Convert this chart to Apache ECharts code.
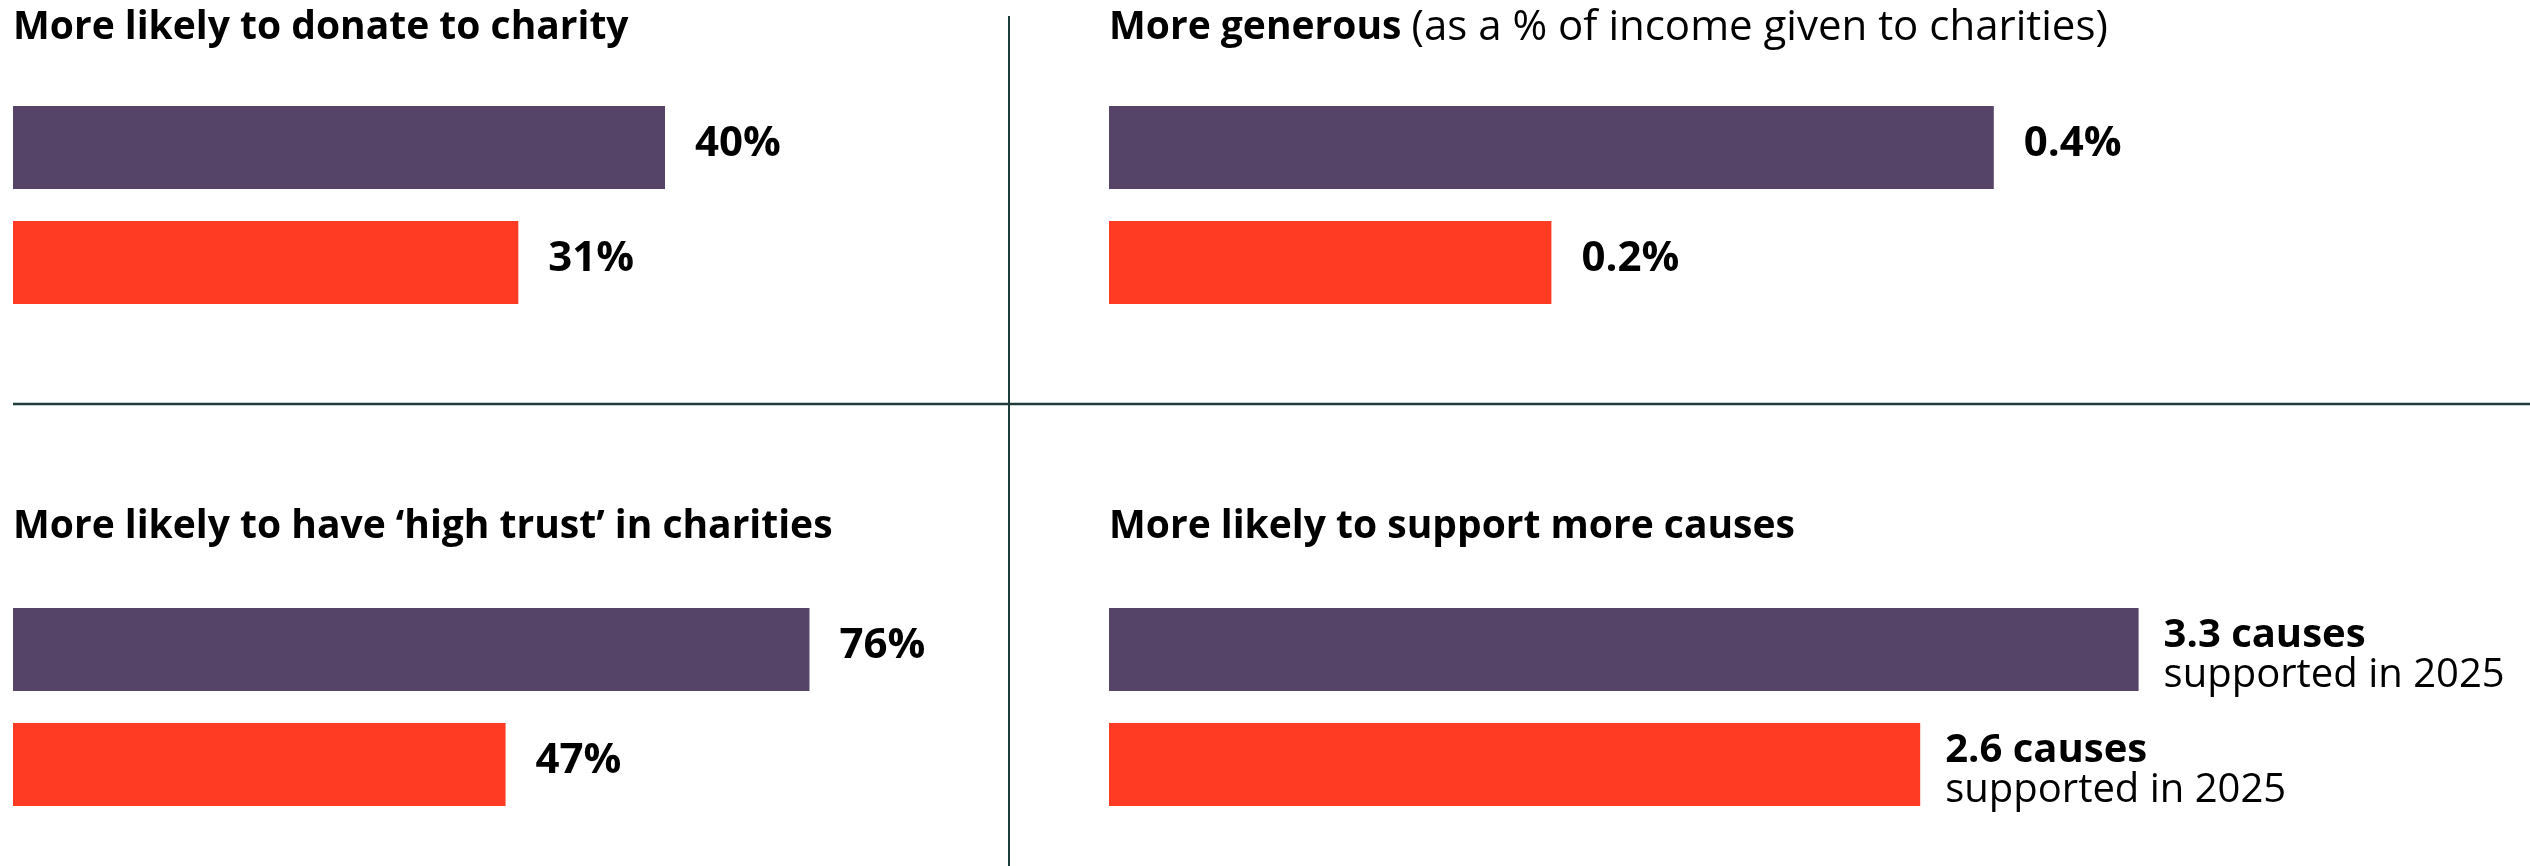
<!DOCTYPE html>
<html>
<head>
<meta charset="utf-8">
<title>Charity giving</title>
<script src="https://cdn.jsdelivr.net/npm/echarts@6/dist/echarts.min.js"></script>
<style>
  html, body { margin: 0; padding: 0; background: #fff; }
  #chart { width: 2530px; height: 866px; }
</style>
</head>
<body>
<div id="chart"></div>
<script>
// two groups compared in every panel (top bar purple, bottom bar red)
const groups = ['Group 1', 'Group 2']
const groupColors = ['#564468', '#ff3b23']

const donateValues = [40, 31]
const generousValues = [0.4, 0.2]
const trustValues = [76, 47]
const causesValues = [3.3, 2.6]
const causesNote = 'supported in 2025'

const FONT = "'Open Sans', 'Liberation Sans', sans-serif"
const LINE = '#1e3c3c'

let chart = echarts.init(document.getElementById('chart'))

function bars (idx, values, label) {
  return {
    type: 'bar',
    xAxisIndex: idx,
    yAxisIndex: idx,
    barWidth: 83,
    silent: true,
    data: values.map((v, i) => ({ value: v, itemStyle: { color: groupColors[i] } })),
    label: Object.assign({
      show: true,
      position: 'right',
      distance: 30,
      color: '#000',
      fontFamily: FONT,
      fontWeight: 'bold',
      fontSize: 42
    }, label)
  }
}

function title (text, left, top) {
  return {
    text: text,
    left: left,
    top: top,
    padding: 0,
    textStyle: {
      fontFamily: FONT,
      fontSize: 39,
      fontWeight: 'bold',
      color: '#000',
      rich: {
        b: { fontFamily: FONT, fontSize: 39, fontWeight: 'bold', color: '#000' },
        n: { fontFamily: FONT, fontSize: 42, fontWeight: 'normal', color: '#000' }
      }
    }
  }
}

chart.setOption({
  animation: false,
  title: [
    title('More likely to donate to charity', 13, 8),
    title('{b|More generous} {n|(as a % of income given to charities)}', 1109, 7),
    title('More likely to have ‘high trust’ in charities', 13, 507),
    title('More likely to support more causes', 1109, 507)
  ],
  grid: [
    { left: 13, top: 90, width: 815, height: 230 },
    { left: 1109, top: 90, width: 1106, height: 230 },
    { left: 13, top: 592, width: 1048, height: 230 },
    { left: 1109, top: 592, width: 1248, height: 230 }
  ],
  xAxis: [
    { gridIndex: 0, type: 'value', min: 0, max: 50, show: false },
    { gridIndex: 1, type: 'value', min: 0, max: 0.5, show: false },
    { gridIndex: 2, type: 'value', min: 0, max: 100, show: false },
    { gridIndex: 3, type: 'value', min: 0, max: 4, show: false }
  ],
  yAxis: [0, 1, 2, 3].map(i => ({
    gridIndex: i,
    type: 'category',
    inverse: true,
    data: groups,
    show: false
  })),
  series: [
    bars(0, donateValues, { formatter: '{c}%', offset: [0, -3] }),
    bars(1, generousValues, { formatter: p => p.value.toFixed(1) + '%', offset: [0, -3] }),
    bars(2, trustValues, { formatter: '{c}%', offset: [0, -3] }),
    bars(3, causesValues, {
      distance: 25,
      offset: [0, 6],
      formatter: p => '{b|' + p.value + ' causes}\n{n|' + causesNote + '}',
      rich: {
        b: { fontFamily: FONT, fontSize: 40, fontWeight: 'bold', color: '#000', lineHeight: 40 },
        n: { fontFamily: FONT, fontSize: 40, fontWeight: 'normal', color: '#000', lineHeight: 40 }
      }
    })
  ],
  // panel dividers
  graphic: [
    { type: 'line', silent: true, shape: { x1: 13, y1: 404, x2: 2530, y2: 404 }, style: { stroke: LINE, lineWidth: 2.5 } },
    { type: 'line', silent: true, shape: { x1: 1009, y1: 16, x2: 1009, y2: 866 }, style: { stroke: LINE, lineWidth: 2 } }
  ]
})
</script>
</body>
</html>
